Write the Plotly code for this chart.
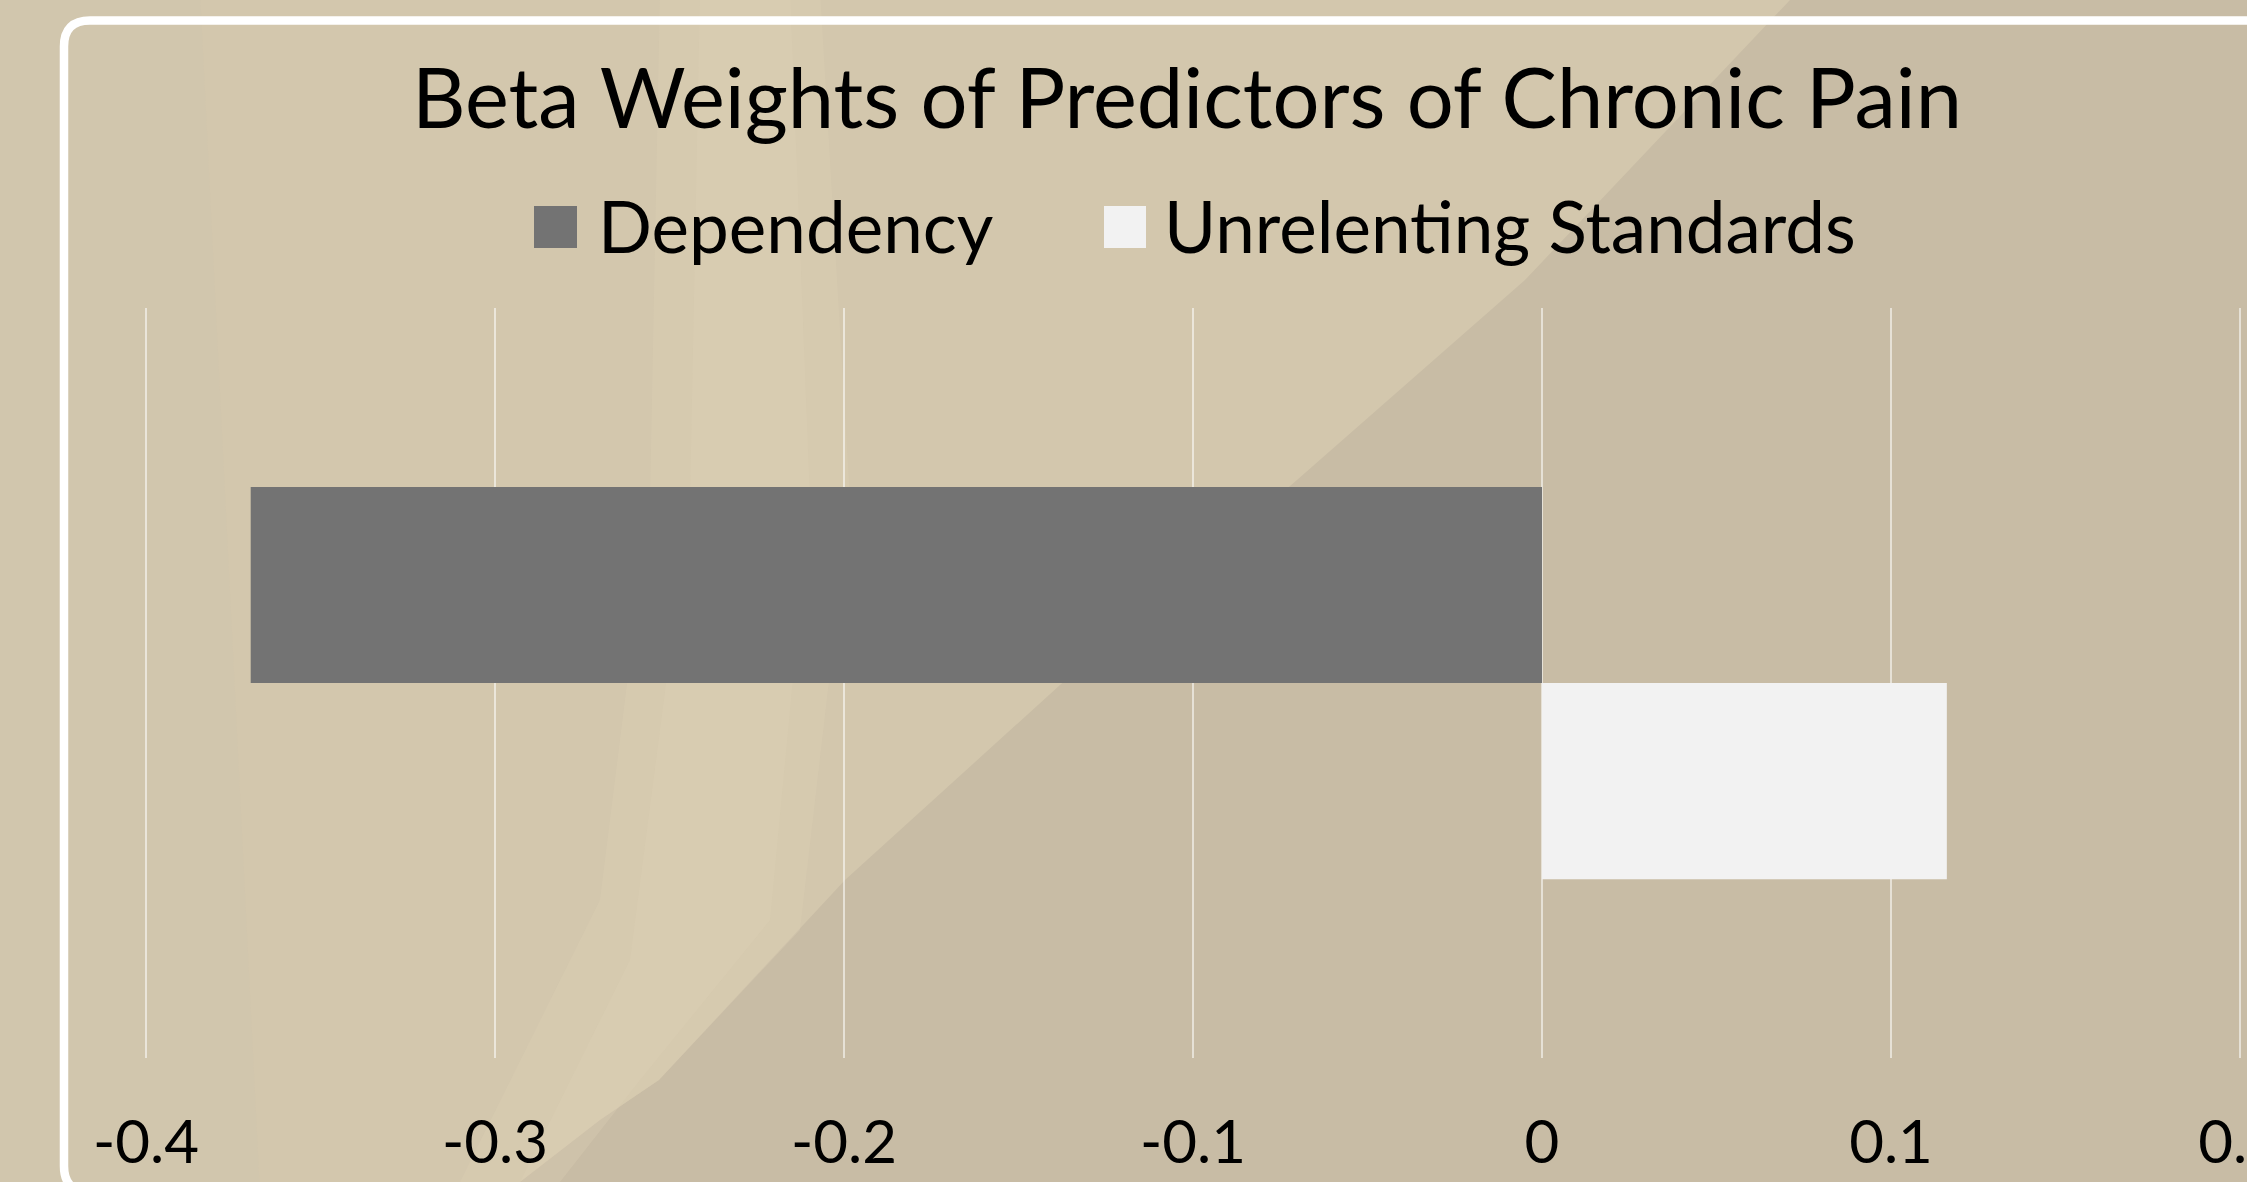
import plotly.graph_objects as go

# chart data
category = ["Chronic Pain"]
series_names = ["Dependency", "Unrelenting Standards"]
dependency = [-0.370]
unrelenting = [0.116]
tick_vals = [-0.4, -0.3, -0.2, -0.1, 0, 0.1, 0.2]
tick_text = ["-0.4", "-0.3", "-0.2", "-0.1", "0", "0.1", "0.2"]
colors = ["#737373", "#F2F2F2"]

W, H = 2247, 1182
FONT = "Lato"


def px(x):
    return x / W


def py(y):
    return 1 - y / H


def poly(points):
    return "M " + " L ".join(f"{px(a):.5f},{py(b):.5f}" for a, b in points) + " Z"


fig = go.Figure()
fig.add_trace(go.Bar(y=category, x=dependency, name=series_names[0], orientation="h",
                     marker=dict(color=colors[0], line=dict(width=0))))
fig.add_trace(go.Bar(y=category, x=unrelenting, name=series_names[1], orientation="h",
                     marker=dict(color=colors[1], line=dict(width=0))))

shapes = []
# background: lighter area on the left with a diagonal edge
edge = [(1790, 0), (1525, 280), (1297, 480), (1060, 685), (845, 880), (659, 1080),
        (600, 1120), (520, 1182)]
shapes.append(dict(type="path", path=poly([(-10, -10)] + edge + [(-10, 1192)]),
                   xref="paper", yref="paper", layer="below",
                   fillcolor="#D3C7AD", line=dict(width=0)))
# soft lighter streaks
streak = [(660, -10), (820, -10), (850, 500), (800, 930), (659, 1080), (600, 1120),
          (520, 1182), (460, 1182), (600, 900), (650, 500)]
shapes.append(dict(type="path", path=poly(streak), xref="paper", yref="paper", layer="below",
                   fillcolor="#DDD1B7", opacity=0.3, line=dict(width=0)))
streak2 = [(700, -10), (790, -10), (810, 500), (770, 920), (640, 1080), (560, 1182),
           (520, 1182), (630, 960), (690, 500)]
shapes.append(dict(type="path", path=poly(streak2), xref="paper", yref="paper", layer="below",
                   fillcolor="#DDD1B7", opacity=0.3, line=dict(width=0)))
# slightly greyer band on the far left
shapes.append(dict(type="path", path=poly([(-10, -10), (200, -10), (260, 1192), (-10, 1192)]),
                   xref="paper", yref="paper", layer="below",
                   fillcolor="#CFC4AD", opacity=0.2, line=dict(width=0)))

# rounded panel border
r = 26
pts = (f"M {px(2320):.5f},{py(20.5):.5f} L {px(64 + r):.5f},{py(20.5):.5f} "
       f"Q {px(64):.5f},{py(20.5):.5f} {px(64):.5f},{py(20.5 + r):.5f} "
       f"L {px(64):.5f},{py(1192 - r):.5f} "
       f"Q {px(64):.5f},{py(1192):.5f} {px(64 + r):.5f},{py(1192):.5f} "
       f"L {px(2320):.5f},{py(1192):.5f}")
shapes.append(dict(type="path", path=pts, xref="paper", yref="paper", layer="below",
                   line=dict(color="white", width=8.5)))

# legend markers (drawn by hand to match large swatches)
legend_boxes = [(534, 577), (1104, 1146)]
for (x0, x1), c in zip(legend_boxes, colors):
    shapes.append(dict(type="rect", xref="paper", yref="paper", x0=px(x0), x1=px(x1),
                       y0=py(248), y1=py(206), fillcolor=c, line=dict(width=0)))

annotations = []
for x0, name in zip([596, 1162], series_names):
    annotations.append(dict(text=name, x=px(x0), y=py(226), xref="paper", yref="paper",
                            xanchor="left", yanchor="middle", showarrow=False,
                            font=dict(family=FONT, size=71, color="black")))

fig.update_layout(
    width=W, height=H,
    margin=dict(l=0, r=0, t=0, b=0),
    paper_bgcolor="#C8BCA5",
    plot_bgcolor="rgba(0,0,0,0)",
    barmode="group",
    bargap=0.477,
    showlegend=False,
    title=dict(text="Beta Weights of Predictors of Chronic Pain", x=px(1187), y=py(99),
               xanchor="center", yanchor="middle",
               font=dict(family=FONT, size=83, color="black")),
    shapes=shapes,
    annotations=annotations,
    xaxis=dict(domain=[px(142.51), px(2243.49)], range=[-0.401, 0.201], tickvals=tick_vals,
               ticktext=tick_text, showgrid=True, gridcolor="rgba(255,255,255,0.55)",
               gridwidth=1.5, zeroline=False, showline=False, ticks="",
               ticklabelstandoff=44, ticklabeloverflow="allow", automargin=False,
               tickfont=dict(family=FONT, size=60, color="black")),
    yaxis=dict(domain=[py(1058), py(308)], autorange="reversed", showticklabels=False,
               showgrid=False, zeroline=False, showline=False, automargin=False),
)

fig.write_html("out.html", config={"displayModeBar": False},
               post_script="document.body.style.margin='0';document.body.style.overflow='hidden';")
